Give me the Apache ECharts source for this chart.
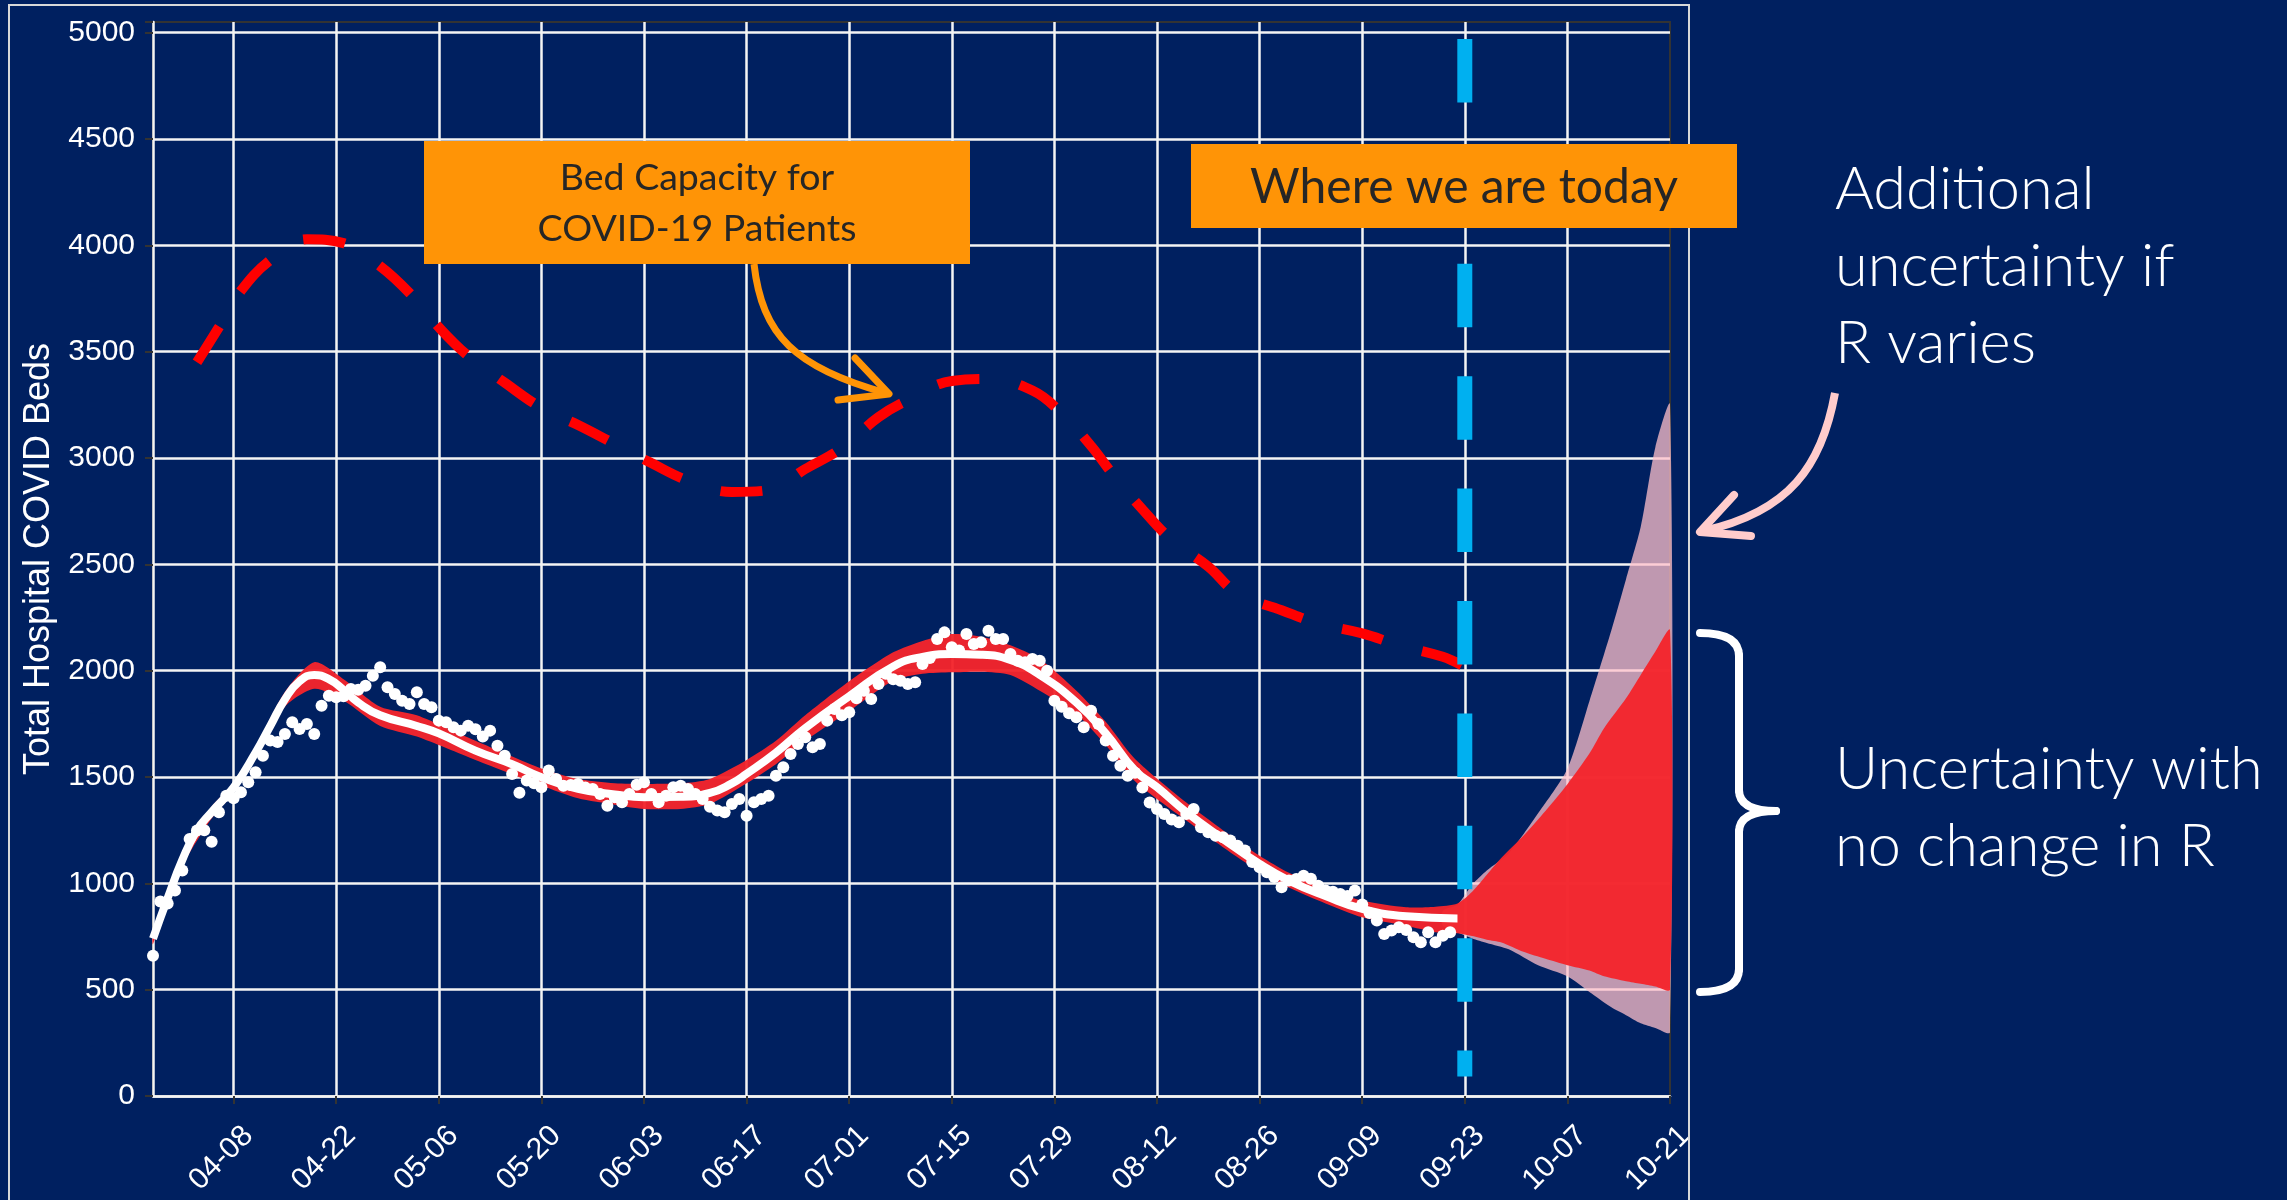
<!DOCTYPE html>
<html>
<head>
<meta charset="utf-8">
<script src="https://cdn.jsdelivr.net/npm/echarts@6/dist/echarts.min.js"></script>
<style>
  html, body { margin: 0; padding: 0; background: #002060; }
  #chart { width: 2287px; height: 1200px; }
</style>
</head>
<body>
<div id="chart"></div>
<script>
// ---- data (days counted from 2020-03-28) ----
const tickLabels = ['04-08', '04-22', '05-06', '05-20', '06-03', '06-17', '07-01', '07-15',
  '07-29', '08-12', '08-26', '09-09', '09-23', '10-07', '10-21'];

// daily observed beds (white dots)
const obsDay = [0, 1, 2, 3, 4, 5, 6, 7, 8, 9, 10, 11, 12, 13, 14, 15, 16, 17, 18, 19, 20, 21, 22, 23, 24, 25, 26, 27, 28, 29,
  30, 31, 32, 33, 34, 35, 36, 37, 38, 39, 40, 41, 42, 43, 44, 45, 46, 47, 48, 49, 50, 51, 52, 53, 54, 55, 56, 57, 58, 59,
  60, 61, 62, 63, 64, 65, 66, 67, 68, 69, 70, 71, 72, 73, 74, 75, 76, 77, 78, 79, 80, 81, 82, 83, 84, 85, 86, 87, 88, 89,
  90, 91, 92, 93, 94, 95, 96, 97, 98, 99, 100, 101, 102, 103, 104, 105, 106, 107, 108, 109, 110, 111, 112, 113, 114, 115, 116, 117, 118, 119,
  120, 121, 122, 123, 124, 125, 126, 127, 128, 129, 130, 131, 132, 133, 134, 135, 136, 137, 138, 139, 140, 141, 142, 143, 144, 145, 146, 147, 148, 149,
  150, 151, 152, 153, 154, 155, 156, 157, 158, 159, 160, 161, 162, 163, 164, 165, 166, 167, 168, 169, 170, 171, 172, 173, 174, 175, 176, 177];
const obsBeds = [660, 915, 905, 966, 1060, 1209, 1248, 1250, 1196, 1334, 1412, 1400, 1428, 1475, 1522, 1600, 1671, 1665, 1702, 1757, 1726, 1749, 1702, 1835, 1882, 1875, 1880, 1914, 1910, 1929,
  1976, 2016, 1922, 1890, 1859, 1843, 1898, 1843, 1828, 1765, 1757, 1734, 1718, 1741, 1725, 1690, 1718, 1647, 1600, 1514, 1426, 1483, 1470, 1452, 1530, 1491, 1459, 1462, 1467, 1450,
  1444, 1420, 1365, 1405, 1381, 1420, 1464, 1475, 1420, 1381, 1412, 1452, 1459, 1444, 1420, 1397, 1360, 1342, 1334, 1373, 1397, 1318, 1381, 1397, 1412, 1506, 1546, 1608, 1655, 1687,
  1640, 1655, 1765, 1820, 1790, 1804, 1870, 1906, 1867, 1937, 1985, 1960, 1953, 1937, 1945, 2031, 2060, 2149, 2180, 2110, 2095, 2172, 2125, 2133, 2188, 2149, 2149, 2078, 2047, 2039,
  2055, 2047, 2000, 1859, 1830, 1800, 1781, 1734, 1812, 1749, 1671, 1600, 1553, 1506, 1520, 1450, 1380, 1350, 1326, 1300, 1287, 1326, 1350, 1264, 1240, 1224, 1217, 1201, 1177, 1154,
  1100, 1075, 1052, 1030, 981, 1013, 1020, 1036, 1021, 989, 966, 960, 950, 940, 966, 900, 860, 825, 762, 778, 793, 780, 746, 723, 770, 723, 754, 770];

// model median (white line)
const fitDay = [0, 2, 4, 6, 8, 11, 14, 16, 18, 20, 22, 24, 26, 28, 31, 36, 39, 44, 49, 53, 58, 63, 67, 72, 76, 79, 81, 85, 89,
  95, 101, 105, 109, 113, 117, 121, 126, 130, 134, 137, 141, 146, 151, 155, 160, 165, 171, 178];
const fitBeds = [740, 930, 1110, 1250, 1335, 1451, 1615, 1740, 1865, 1950, 1980, 1960, 1910, 1850, 1790, 1740, 1705, 1624, 1560, 1499, 1444, 1418, 1405, 1407, 1425, 1470, 1515, 1615, 1730,
  1880, 2020, 2065, 2078, 2075, 2050, 1980, 1850, 1705, 1530, 1452, 1335, 1209, 1091, 1013, 940, 880, 845, 835];

// uncertainty with no change in R (red band)
const bandDay = [0, 4, 8, 11, 14, 18, 22, 26, 31, 36, 44, 53, 58, 63, 67, 72, 76, 81, 85, 89, 95, 101, 105, 109, 113, 117, 121, 126,
  130, 134, 141, 146, 151, 155, 160, 165, 171, 175, 178, 180, 182, 184, 187, 190, 193, 196, 198, 201, 203, 205, 207];
const bandLow = [715, 1080, 1305, 1425, 1590, 1830, 1915, 1860, 1740, 1690, 1580, 1460, 1400, 1370, 1350, 1350, 1373, 1470, 1560, 1670, 1810, 1953, 1985, 1992, 1995, 1980, 1906, 1796,
  1650, 1480, 1295, 1170, 1055, 980, 905, 840, 800, 770, 765, 752, 735, 722, 678, 645, 615, 590, 563, 540, 528, 515, 500];
const bandHigh = [765, 1135, 1360, 1470, 1640, 1900, 2040, 1960, 1830, 1790, 1670, 1540, 1490, 1470, 1467, 1470, 1491, 1580, 1670, 1790, 1950, 2086, 2140, 2172, 2160, 2120, 2055, 1906,
  1760, 1585, 1380, 1250, 1130, 1050, 975, 919, 887, 890, 905, 960, 1040, 1120, 1224, 1340, 1466, 1610, 1729, 1870, 1980, 2090, 2190];

// additional uncertainty if R varies (pink band)
const outerDay = [176, 178, 180, 182, 185, 189, 193, 196, 199, 201, 203, 205, 207];
const outerLow = [800, 770, 741, 720, 690, 615, 563, 489, 417, 380, 342, 320, 300];
const outerHigh = [870, 900, 993, 1060, 1141, 1329, 1539, 1856, 2190, 2430, 2675, 3051, 3250];

// bed capacity for COVID-19 patients (red dashed)
const capDay = [6, 9, 12, 16, 21, 26, 31, 35, 39, 43, 48, 53, 58, 63, 68, 73, 79, 84, 89, 94, 99, 103, 109, 114,
  120, 124, 128, 131, 135, 139, 144, 148, 154, 159, 165, 170, 176, 179];
const capBeds = [3450, 3615, 3786, 3930, 4028, 4010, 3902, 3776, 3615, 3480, 3354, 3236, 3155, 3066, 2976, 2894, 2840, 2849, 2948, 3047, 3192, 3272, 3362, 3371,
  3317, 3210, 3057, 2922, 2759, 2615, 2489, 2363, 2284, 2222, 2175, 2120, 2065, 2018];

const todayDay = 179;
const todayRange = [4970, 92];

// ---- axis categories: every day from 03-28 to 10-21 ----
const dayLabels = [];
for (let i = 0; i <= 207; i++) {
  const d = new Date(2020, 2, 28 + i);
  dayLabels.push(String(d.getMonth() + 1).padStart(2, '0') + '-' + String(d.getDate()).padStart(2, '0'));
}
const isTick = (i, v) => tickLabels.indexOf(v) >= 0;

const pairs = (xs, ys) => xs.map((x, i) => [x, ys[i]]);

function bandSeries(days, low, high, color, z) {
  return {
    type: 'custom',
    silent: true,
    z: z,
    data: [0],
    renderItem: function (params, api) {
      const top = days.map((d, i) => api.coord([d, high[i]]));
      const bottom = days.map((d, i) => api.coord([d, low[i]])).reverse();
      return {
        type: 'polygon',
        shape: { points: top.concat(bottom), smooth: 0.25 },
        style: { fill: color }
      };
    }
  };
}

const chart = echarts.init(document.getElementById('chart'));

const WHITE = '#f4f4f4';
const ORANGE = '#ff9406';
const axisFont = 'Liberation Sans, Arial, sans-serif';
const noteFont = 'Lato, "Open Sans", sans-serif';

// curly brace on the right, built from simple pieces
const braceStyle = { stroke: '#ffffff', lineWidth: 8, fill: null, lineCap: 'round' };
const brace = [
  { type: 'bezierCurve', shape: { x1: 1700, y1: 633, cpx1: 1739, cpy1: 633, x2: 1739, y2: 656 } },
  { type: 'line', shape: { x1: 1739, y1: 655, x2: 1739, y2: 791 } },
  { type: 'bezierCurve', shape: { x1: 1739, y1: 790, cpx1: 1739, cpy1: 811, x2: 1776, y2: 811 } },
  { type: 'bezierCurve', shape: { x1: 1776, y1: 811, cpx1: 1739, cpy1: 811, x2: 1739, y2: 832 } },
  { type: 'line', shape: { x1: 1739, y1: 831, x2: 1739, y2: 970 } },
  { type: 'bezierCurve', shape: { x1: 1739, y1: 969, cpx1: 1739, cpy1: 992, x2: 1700, y2: 992 } }
].map(el => Object.assign(el, { z: 100, silent: true, style: braceStyle }));

const option = {
  animation: false,
  backgroundColor: '#002060',
  grid: {
    left: 153, right: 617, top: 22, bottom: 104,
    show: true, borderColor: '#333333', borderWidth: 2,
    outerBoundsMode: 'none'
  },
  xAxis: {
    type: 'category',
    data: dayLabels,
    boundaryGap: false,
    axisLine: { show: true, lineStyle: { color: WHITE, width: 2.5 } },
    axisTick: { show: true, length: 8, interval: isTick, lineStyle: { color: '#333333', width: 2 } },
    axisLabel: {
      interval: isTick, rotate: 45, color: '#ffffff', fontSize: 30, fontFamily: axisFont,
      margin: 26, verticalAlign: 'top', lineHeight: 34, padding: [0, -4, 0, 0]
    },
    splitLine: {
      show: true,
      interval: (i, v) => isTick(i, v) && v !== '10-21',
      lineStyle: { color: WHITE, width: 2.5 }
    }
  },
  yAxis: {
    type: 'value',
    min: 0, max: 5050, interval: 500,
    name: 'Total Hospital COVID Beds',
    nameLocation: 'middle',
    nameGap: 96,
    nameTextStyle: { color: '#ffffff', fontSize: 36, fontFamily: axisFont },
    axisLine: { show: true, lineStyle: { color: WHITE, width: 2.5 } },
    axisTick: { show: true, length: 8, lineStyle: { color: '#333333', width: 2 } },
    axisLabel: {
      color: '#ffffff', fontSize: 30, fontFamily: axisFont, margin: 18,
      formatter: v => (v % 500 === 0 ? String(v) : '')
    },
    splitLine: { show: true, showMaxLine: false, lineStyle: { color: WHITE, width: 2.5 } }
  },
  series: [
    bandSeries(outerDay, outerLow, outerHigh, 'rgba(255,192,203,0.75)', 2),
    bandSeries(bandDay, bandLow, bandHigh, 'rgba(244,36,44,0.96)', 3),
    {
      name: 'Model',
      type: 'line',
      z: 4,
      data: pairs(fitDay, fitBeds),
      smooth: 0.5,
      showSymbol: false,
      silent: true,
      lineStyle: { color: '#ffffff', width: 8 }
    },
    {
      name: 'Observed',
      type: 'scatter',
      z: 5,
      data: pairs(obsDay, obsBeds),
      symbolSize: 12,
      silent: true,
      itemStyle: { color: '#ffffff', opacity: 1 }
    },
    {
      name: 'Bed Capacity',
      type: 'line',
      z: 6,
      data: pairs(capDay, capBeds),
      smooth: 0.4,
      showSymbol: false,
      silent: true,
      lineStyle: { color: '#ff0000', width: 10, type: [42, 41], cap: 'butt' }
    },
    {
      name: 'Today',
      type: 'line',
      z: 7,
      data: [[todayDay, todayRange[0]], [todayDay, todayRange[1]]],
      showSymbol: false,
      silent: true,
      lineStyle: { color: '#00b0f0', width: 15, type: [63.5, 48.9], cap: 'butt' }
    }
  ],
  graphic: [
    // outer frame
    { type: 'rect', z: 1, silent: true, shape: { x: 9, y: 5, width: 1680, height: 1260 },
      style: { fill: null, stroke: '#d8d8d8', lineWidth: 2 } },
    // capacity label + arrow
    { type: 'rect', z: 100, shape: { x: 424, y: 141, width: 546, height: 123 }, style: { fill: ORANGE } },
    { type: 'text', z: 101, style: { text: 'Bed Capacity for\nCOVID-19 Patients', x: 697, y: 203, align: 'center',
        verticalAlign: 'middle', fontSize: 37.5, fontFamily: noteFont, lineHeight: 51, fill: '#262626' } },
    { type: 'bezierCurve', z: 100, shape: { x1: 754, y1: 264, cpx1: 762, cpy1: 335, cpx2: 795, cpy2: 368, x2: 886, y2: 393 },
      style: { stroke: ORANGE, lineWidth: 7, fill: null } },
    { type: 'polyline', z: 100, shape: { points: [[855, 358], [889, 394], [838, 400]] },
      style: { stroke: ORANGE, lineWidth: 7, lineCap: 'round', lineJoin: 'round', fill: null } },
    // today label
    { type: 'rect', z: 100, shape: { x: 1191, y: 144, width: 546, height: 84 }, style: { fill: ORANGE } },
    { type: 'text', z: 101, style: { text: 'Where we are today', x: 1464, y: 188, align: 'center',
        verticalAlign: 'middle', fontSize: 48, fontFamily: noteFont, fill: '#262626' } },
    // right-hand notes
    { type: 'text', z: 101, style: { text: 'Additional\nuncertainty if\nR varies', x: 1835, y: 151, align: 'left',
        verticalAlign: 'top', fontSize: 59.5, fontWeight: 300, lineHeight: 77, fontFamily: noteFont, fill: '#ffffff' } },
    { type: 'bezierCurve', z: 100, shape: { x1: 1835, y1: 393, cpx1: 1822, cpy1: 465, cpx2: 1790, cpy2: 512, x2: 1703, y2: 531 },
      style: { stroke: '#ffcccc', lineWidth: 8, fill: null } },
    { type: 'polyline', z: 100, shape: { points: [[1734, 495], [1700, 532], [1751, 536]] },
      style: { stroke: '#ffcccc', lineWidth: 8, lineCap: 'round', lineJoin: 'round', fill: null } },
    ...brace,
    { type: 'text', z: 101, style: { text: 'Uncertainty with\nno change in R', x: 1835, y: 731, align: 'left',
        verticalAlign: 'top', fontSize: 59.5, fontWeight: 300, lineHeight: 77, fontFamily: noteFont, fill: '#ffffff' } }
  ]
};

chart.setOption(option);
window.addEventListener('resize', () => chart.resize());
</script>
</body>
</html>
